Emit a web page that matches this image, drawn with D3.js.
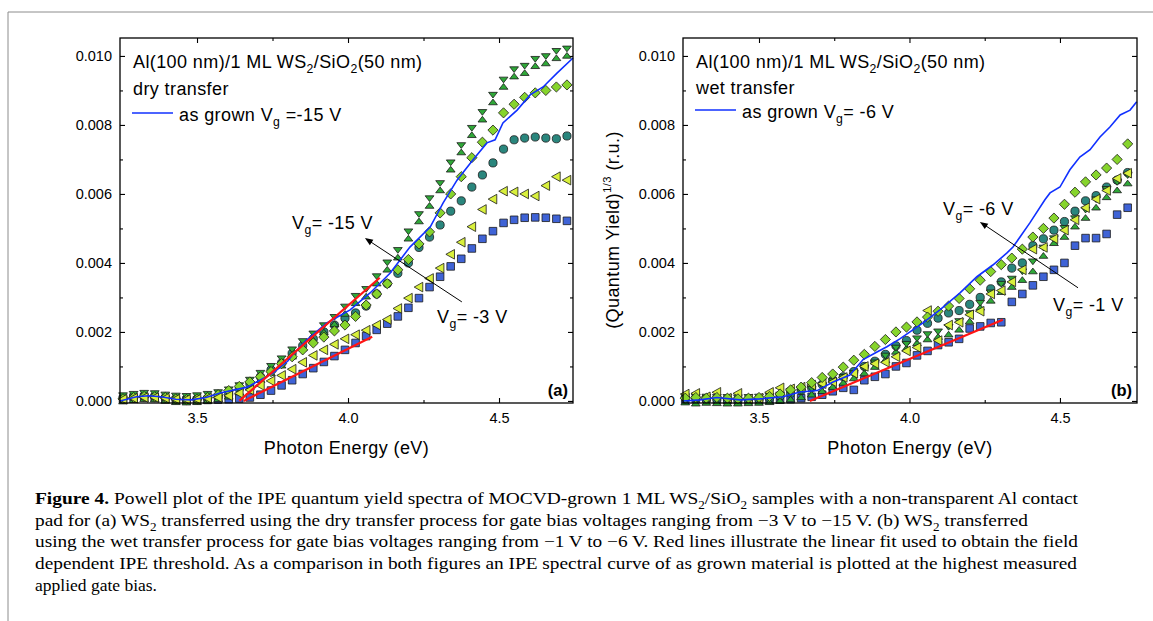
<!DOCTYPE html>
<html>
<head>
<meta charset="utf-8">
<script src="https://cdn.jsdelivr.net/npm/d3@7"></script>
<style>
  body { margin: 0; background: #fff; }
  svg text { font-family: "Liberation Sans", Arial, sans-serif; fill: #000; }
  .lbl { letter-spacing: 0.4px; }
  .caption text { font-family: "Liberation Serif", "Times New Roman", serif; }
</style>
</head>
<body>
<svg id="fig" width="1153" height="621"></svg>
<script>
// ---------------------------------------------------------------------------
// Data (photon energy in eV, (quantum yield)^1/3 in units of 10^-3 r.u.)
// ---------------------------------------------------------------------------
var energy = [3.255, 3.29, 3.325, 3.36, 3.395, 3.43, 3.465, 3.5, 3.535, 3.57,
  3.605, 3.64, 3.675, 3.71, 3.745, 3.78, 3.815, 3.85, 3.885, 3.92,
  3.955, 3.99, 4.025, 4.06, 4.095, 4.13, 4.165, 4.2, 4.235, 4.27,
  4.305, 4.34, 4.375, 4.41, 4.445, 4.48, 4.515, 4.55, 4.585, 4.62,
  4.655, 4.69, 4.725];

// (a) dry transfer
var aSquare = [0.05, 0.10, 0.12, 0.10, 0.06, 0.03, 0.02, 0.02, 0.03, 0.04,
  0.05, 0.07, 0.10, 0.18, 0.30, 0.45, 0.60, 0.78, 0.95, 1.13,
  1.30, 1.48, 1.68, 1.88, 2.06, 2.24, 2.45, 2.70, 2.98, 3.30,
  3.60, 3.90, 4.12, 4.42, 4.70, 4.92, 5.16, 5.25, 5.31, 5.32,
  5.31, 5.28, 5.22];
var aTriLeft = [0.05, 0.08, 0.10, 0.10, 0.08, 0.05, 0.04, 0.05, 0.08, 0.10,
  0.15, 0.22, 0.32, 0.45, 0.58, 0.74, 0.92, 1.12, 1.32, 1.48,
  1.64, 1.80, 1.92, 2.05, 2.20, 2.36, 2.68, 2.98, 3.30, 3.55,
  3.85, 4.25, 4.60, 5.05, 5.55, 5.85, 6.08, 6.06, 6.00, 5.94,
  6.24, 6.50, 6.40];
var aCircle = [0.08, 0.12, 0.14, 0.13, 0.10, 0.06, 0.04, 0.05, 0.08, 0.12,
  0.20, 0.35, 0.50, 0.70, 0.90, 1.10, 1.38, 1.60, 1.80, 2.00,
  2.20, 2.40, 2.55, 2.75, 3.10, 3.40, 3.70, 4.00, 4.45, 4.75,
  5.10, 5.50, 5.80, 6.20, 6.55, 6.90, 7.30, 7.57, 7.62, 7.65,
  7.62, 7.60, 7.68];
var aDiamond = [0.06, 0.10, 0.13, 0.12, 0.10, 0.06, 0.04, 0.05, 0.10, 0.18,
  0.30, 0.42, 0.55, 0.70, 0.85, 1.08, 1.28, 1.48, 1.68, 1.85,
  2.03, 2.20, 2.45, 2.78, 3.10, 3.40, 3.80, 4.10, 4.55, 4.90,
  5.45, 6.00, 6.50, 7.05, 7.50, 7.85, 8.35, 8.60, 8.80, 8.93,
  9.00, 9.10, 9.16];
var aTriUp = [0.08, 0.12, 0.15, 0.14, 0.10, 0.06, 0.05, 0.06, 0.10, 0.15,
  0.22, 0.35, 0.50, 0.70, 0.90, 1.12, 1.38, 1.62, 1.85, 2.08,
  2.32, 2.62, 2.93, 3.12, 3.50, 3.90, 4.25, 4.80, 5.30, 5.75,
  6.20, 6.80, 7.30, 7.80, 8.25, 8.75, 9.20, 9.50, 9.60, 9.80,
  9.88, 10.03, 10.10];
var aTriDown = [0.07, 0.11, 0.14, 0.13, 0.09, 0.06, 0.05, 0.07, 0.11, 0.16,
  0.24, 0.36, 0.52, 0.72, 0.92, 1.14, 1.40, 1.64, 1.86, 2.10,
  2.34, 2.64, 2.95, 3.15, 3.52, 3.92, 4.28, 4.82, 5.32, 5.78,
  6.22, 6.82, 7.32, 7.82, 8.28, 8.78, 9.22, 9.52, 9.62, 9.82,
  9.90, 10.05, 10.12];
var aGrownE = [3.245, 3.30, 3.34, 3.38, 3.43, 3.48, 3.53, 3.576, 3.666, 3.75,
  3.80, 3.818, 3.864, 3.93, 4.007, 4.073, 4.139, 4.205, 4.272, 4.315,
  4.361, 4.414, 4.46, 4.487, 4.513, 4.56, 4.603, 4.646, 4.692, 4.745];
var aGrownY = [0.00, 0.12, 0.15, 0.12, 0.05, 0.03, 0.10, 0.23, 0.40, 0.80,
  1.15, 1.35, 1.77, 2.26, 2.64, 3.13, 3.70, 4.46, 5.04, 5.74,
  6.40, 6.99, 7.48, 7.57, 8.06, 8.43, 8.87, 9.10, 9.50, 9.94];
var aFitE = [[3.64, 4.105], [3.655, 4.08]];
var aFitY = [[0, 3.57], [0, 1.86]];

// (b) wet transfer
var bSquare = [0.03, 0.05, 0.06, 0.04, 0.02, 0.01, 0.01, 0.02, 0.03, 0.04,
  0.05, 0.08, 0.12, 0.18, 0.28, 0.38, 0.32, 0.60, 0.70, 0.78,
  1.00, 1.10, 1.32, 1.45, 1.62, 1.70, 1.80, 2.10, 2.16, 2.26,
  2.28, 2.87, 3.10, 3.35, 3.60, 3.80, 4.00, 4.50, 4.72, 4.72,
  4.84, 5.40, 5.60];
var bTriLeft = [0.20, 0.22, 0.12, 0.25, 0.08, 0.22, 0.06, 0.08, 0.25, 0.38,
  0.35, 0.40, 0.46, 0.50, 0.55, 0.68, 0.80, 1.00, 1.08, 1.12,
  1.28, 1.45, 1.55, 2.62, 1.75, 2.20, 2.28, 2.50, 2.60, 3.10,
  3.20, 3.45, 3.80, 4.40, 4.45, 4.70, 4.95, 5.25, 5.60, 5.85,
  6.10, 6.45, 6.60];
var bCircle = [0.10, 0.08, 0.05, 0.06, 0.04, 0.03, 0.04, 0.05, 0.08, 0.14,
  0.22, 0.30, 0.38, 0.48, 0.60, 0.70, 0.85, 1.00, 1.15, 1.35,
  1.60, 1.75, 2.05, 2.25, 2.40, 2.55, 2.62, 2.80, 3.00, 3.25,
  3.45, 3.85, 4.00, 4.50, 4.70, 4.95, 5.20, 5.50, 5.80, 5.95,
  6.20, 6.40, 6.62];
var bDiamond = [0.08, 0.10, 0.08, 0.10, 0.08, 0.06, 0.08, 0.10, 0.13, 0.20,
  0.32, 0.40, 0.53, 0.68, 0.78, 0.98, 1.18, 1.35, 1.58, 1.78,
  2.00, 2.14, 2.29, 2.43, 2.60, 2.75, 2.97, 3.25, 3.50, 3.75,
  3.95, 4.14, 4.40, 4.75, 5.00, 5.30, 5.70, 6.05, 6.35, 6.55,
  6.75, 7.00, 7.45];
var bTriUp = [0.05, 0.02, 0.04, 0.03, 0.02, 0.02, 0.03, 0.04, 0.06, 0.10,
  0.14, 0.20, 0.28, 0.38, 0.50, 0.62, 0.75, 0.90, 1.08, 1.28,
  1.52, 1.62, 1.77, 1.88, 1.95, 2.02, 2.16, 2.40, 2.80, 3.00,
  3.25, 3.40, 3.60, 3.85, 4.30, 4.67, 4.85, 5.15, 5.40, 5.70,
  6.00, 6.20, 6.40];
var bTriDown = [0.04, 0.03, 0.03, 0.02, 0.02, 0.01, 0.02, 0.03, 0.05, 0.09,
  0.13, 0.18, 0.26, 0.36, 0.48, 0.60, 0.72, 0.86, 1.02, 1.22,
  1.45, 1.56, 1.72, 1.84, 1.92, 2.05, 2.22, 2.45, 2.75, 3.05,
  3.30, 3.45, 3.66, 3.95, 4.35, 4.62, 4.92, 5.20, 5.45, 5.75,
  6.05, 6.25, 6.45];
var bGrownE = [3.248, 3.304, 3.36, 3.437, 3.503, 3.58, 3.636, 3.693, 3.746, 3.802,
  3.846, 3.892, 3.925, 3.968, 4.045, 4.101, 4.168, 4.224, 4.277, 4.324,
  4.344, 4.4, 4.45, 4.467, 4.5, 4.533, 4.566, 4.6, 4.633, 4.666,
  4.7, 4.733, 4.755];
var bGrownY = [0.00, 0.03, 0.10, 0.03, 0.06, 0.12, 0.26, 0.30, 0.55, 0.75,
  1.20, 1.42, 1.57, 1.80, 2.26, 2.64, 3.13, 3.60, 3.94, 4.29,
  4.46, 5.16, 5.83, 6.03, 6.20, 6.70, 7.07, 7.28, 7.65, 7.94,
  8.29, 8.43, 8.67];
var bFitE = [[3.669, 4.31]];
var bFitY = [[0, 2.35]];

// axes
var xTicks = [3.5, 4.0, 4.5];
var xTickLabels = ["3.5", "4.0", "4.5"];
var xMinor = [3.75, 4.25];
var yTicks = [0, 2, 4, 6, 8, 10];
var yTickLabels = ["0.000", "0.002", "0.004", "0.006", "0.008", "0.010"];
var yMinor = [1, 3, 5, 7, 9];

// ---------------------------------------------------------------------------
// Layout
// ---------------------------------------------------------------------------
var svg = d3.select("#fig");
var plotTop = 38, plotBottom = 403;
var yDomain = [-0.06, 10.52];
var fs = 18;   // label font size

// figure box lines
svg.append("line").attr("x1", 8).attr("x2", 1153).attr("y1", 12).attr("y2", 12)
  .attr("stroke", "#8c8c8c").attr("stroke-width", 1);
svg.append("line").attr("x1", 8).attr("x2", 8).attr("y1", 12).attr("y2", 621)
  .attr("stroke", "#8c8c8c").attr("stroke-width", 1);

// marker shapes
var shapes = {
  square: "M-3.8,-3.8h7.6v7.6h-7.6Z",
  circle: "M4.1,0A4.1,4.1 0 1,1 -4.1,0A4.1,4.1 0 1,1 4.1,0Z",
  diamond: "M0,-5.1L5.1,0L0,5.1L-5.1,0Z",
  triLeft: "M-4.8,0L3.8,-4.8L3.8,4.8Z",
  triUp: "M0,0L4.4,5.7L-4.4,5.7Z",
  triDown: "M0,0L4.4,-5.7L-4.4,-5.7Z"
};
var colors = {
  square: "#3f63d6", triLeft: "#d9f03c", circle: "#2a867d",
  diamond: "#86d42c", triUp: "#2fa838", triDown: "#2fa838"
};

// text with sub/superscript/bold pieces
function addRich(sel, segs, size) {
  var shift = 0;
  segs.forEach(function(seg) {
    var t = seg[0], s = seg[1];
    var ts = sel.append("tspan").text(t);
    var target = 0;
    if (s === "s") { ts.attr("font-size", size * 0.68); target = size * 0.3; }
    if (s === "p") { ts.attr("font-size", size * 0.62); target = -size * 0.42; }
    if (s === "b") ts.attr("font-weight", "bold");
    if (target !== shift) { ts.attr("dy", target - shift); shift = target; }
  });
}

function drawPanel(p) {
  var x = d3.scaleLinear().domain(p.xDomain).range([p.left, p.right]);
  var y = d3.scaleLinear().domain(yDomain).range([plotBottom, plotTop]);
  var g = svg.append("g");

  // axes: all ticks inward
  function styleAxis(sel) {
    sel.select(".domain").remove();
    sel.attr("font-size", 14.5).attr("font-family", "Liberation Sans, Arial, sans-serif");
    sel.selectAll(".tick line").attr("stroke", "#000").attr("stroke-width", 1.1);
  }
  g.append("g").attr("transform", "translate(0," + plotBottom + ")")
    .call(d3.axisBottom(x).tickValues(xTicks).tickSizeInner(-5).tickSizeOuter(0)
      .tickPadding(10).tickFormat(function(d, i) { return xTickLabels[i]; }))
    .call(styleAxis);
  g.append("g").attr("transform", "translate(0," + plotBottom + ")")
    .call(d3.axisBottom(x).tickValues(xMinor).tickSizeInner(-3).tickSizeOuter(0).tickFormat(""))
    .call(styleAxis);
  g.append("g").attr("transform", "translate(0," + plotTop + ")")
    .call(d3.axisTop(x).tickValues(xTicks).tickSizeInner(-5).tickSizeOuter(0).tickFormat(""))
    .call(styleAxis);
  g.append("g").attr("transform", "translate(0," + plotTop + ")")
    .call(d3.axisTop(x).tickValues(xMinor).tickSizeInner(-3).tickSizeOuter(0).tickFormat(""))
    .call(styleAxis);
  g.append("g").attr("transform", "translate(" + p.left + ",0)")
    .call(d3.axisLeft(y).tickValues(yTicks).tickSizeInner(-5).tickSizeOuter(0)
      .tickPadding(8).tickFormat(function(d, i) { return yTickLabels[i]; }))
    .call(styleAxis);
  g.append("g").attr("transform", "translate(" + p.left + ",0)")
    .call(d3.axisLeft(y).tickValues(yMinor).tickSizeInner(-3).tickSizeOuter(0).tickFormat(""))
    .call(styleAxis);
  g.append("g").attr("transform", "translate(" + p.right + ",0)")
    .call(d3.axisRight(y).tickValues(yTicks).tickSizeInner(-5).tickSizeOuter(0).tickFormat(""))
    .call(styleAxis);
  g.append("g").attr("transform", "translate(" + p.right + ",0)")
    .call(d3.axisRight(y).tickValues(yMinor).tickSizeInner(-3).tickSizeOuter(0).tickFormat(""))
    .call(styleAxis);

  // markers
  p.series.forEach(function(s) {
    g.append("g").selectAll("path")
      .data(energy.map(function(e, i) { return { e: e, v: s.vals[i] }; }))
      .join("path")
      .attr("transform", function(d) { return "translate(" + x(d.e) + "," + y(d.v) + ")"; })
      .attr("d", shapes[s.shape])
      .attr("fill", colors[s.shape])
      .attr("stroke", "#1a1a1a")
      .attr("stroke-width", 0.8);
  });

  // as grown curve
  var line = d3.line().x(function(d) { return x(d[0]); }).y(function(d) { return y(d[1]); });
  g.append("path")
    .datum(p.grownE.map(function(e, i) { return [e, p.grownY[i]]; }))
    .attr("d", line).attr("fill", "none").attr("stroke", "#1030ff").attr("stroke-width", 1.6);

  // linear fits
  p.fitE.forEach(function(fe, k) {
    g.append("path")
      .datum(fe.map(function(e, i) { return [e, p.fitY[k][i]]; }))
      .attr("d", line).attr("fill", "none").attr("stroke", "#ff1414").attr("stroke-width", 2.2);
  });

  // frame
  g.append("rect").attr("x", p.left).attr("y", plotTop)
    .attr("width", p.right - p.left).attr("height", plotBottom - plotTop)
    .attr("fill", "none").attr("stroke", "#000").attr("stroke-width", 1.3);

  // header text and legend
  var t1 = g.append("text").attr("class", "lbl").attr("x", p.left + 13).attr("y", 67.5).attr("font-size", fs);
  addRich(t1, [["Al(100 nm)/1 ML WS"], ["2", "s"], ["/SiO"], ["2", "s"], ["(50 nm)"]], fs);
  g.append("text").attr("class", "lbl").attr("x", p.left + 13).attr("y", p.line2Y)
    .attr("font-size", fs).text(p.transfer);
  g.append("line").attr("x1", p.left + 12).attr("x2", p.left + 53)
    .attr("y1", p.legY).attr("y2", p.legY).attr("stroke", "#1030ff").attr("stroke-width", 1.6);
  var t3 = g.append("text").attr("class", "lbl").attr("x", p.left + 59).attr("y", p.legY + 8).attr("font-size", fs);
  addRich(t3, p.legend, fs);

  // arrow annotation
  var ax1 = x(p.arrow[0][0]), ay1 = y(p.arrow[0][1]);
  var ax2 = x(p.arrow[1][0]), ay2 = y(p.arrow[1][1]);
  var ang = Math.atan2(ay1 - ay2, ax1 - ax2);
  g.append("line").attr("x1", ax2).attr("y1", ay2)
    .attr("x2", ax1 - 5 * Math.cos(ang)).attr("y2", ay1 - 5 * Math.sin(ang))
    .attr("stroke", "#000").attr("stroke-width", 1);
  var hl = 8, hw = 3.2;
  var bx = ax1 - hl * Math.cos(ang), by = ay1 - hl * Math.sin(ang);
  g.append("path")
    .attr("d", "M" + ax1 + "," + ay1 +
      "L" + (bx + hw * Math.sin(ang)) + "," + (by - hw * Math.cos(ang)) +
      "L" + (bx - hw * Math.sin(ang)) + "," + (by + hw * Math.cos(ang)) + "Z")
    .attr("fill", "#000");
  p.vLabels.forEach(function(v) {
    var t = g.append("text").attr("class", "lbl").attr("x", v.x).attr("y", v.y).attr("font-size", fs);
    addRich(t, [["V"], ["g", "s"], [v.text]], fs);
  });

  // panel letter
  g.append("text").attr("x", p.right - 5).attr("y", 396).attr("text-anchor", "end")
    .attr("font-size", 16.5).attr("font-weight", "bold").text(p.letter);

  // x title
  g.append("text").attr("class", "lbl").attr("x", (p.left + p.right) / 2).attr("y", 454)
    .attr("text-anchor", "middle").attr("font-size", fs).text("Photon Energy (eV)");
  return { x: x, y: y };
}

drawPanel({
  left: 120, right: 573, xDomain: [3.245, 4.745],
  series: [
    { vals: aSquare, shape: "square" },
    { vals: aCircle, shape: "circle" },
    { vals: aTriUp, shape: "triUp" },
    { vals: aTriDown, shape: "triDown" },
    { vals: aDiamond, shape: "diamond" },
    { vals: aTriLeft, shape: "triLeft" }
  ],
  grownE: aGrownE, grownY: aGrownY, fitE: aFitE, fitY: aFitY,
  transfer: "dry transfer", line2Y: 95, legY: 113,
  legend: [["as grown V"], ["g", "s"], [" =-15 V"]],
  arrow: [[4.056, 4.72], [4.377, 2.87]],
  vLabels: [{ x: 292, y: 229, text: "= -15 V" }, { x: 437, y: 323, text: "= -3 V" }],
  letter: "(a)"
});

drawPanel({
  left: 683, right: 1137, xDomain: [3.2475, 4.756],
  series: [
    { vals: bSquare, shape: "square" },
    { vals: bCircle, shape: "circle" },
    { vals: bTriUp, shape: "triUp" },
    { vals: bTriDown, shape: "triDown" },
    { vals: bTriLeft, shape: "triLeft" },
    { vals: bDiamond, shape: "diamond" }
  ],
  grownE: bGrownE, grownY: bGrownY, fitE: bFitE, fitY: bFitY,
  transfer: "wet transfer", line2Y: 93.5, legY: 110,
  legend: [["as grown V"], ["g", "s"], ["= -6 V"]],
  arrow: [[4.234, 5.19], [4.56, 3.28]],
  vLabels: [{ x: 943, y: 215, text: "= -6 V" }, { x: 1053, y: 311, text: "= -1 V" }],
  letter: "(b)"
});

// y title, panel (b)
var yt = svg.append("text").attr("class", "lbl").attr("transform", "translate(619,230) rotate(-90)")
  .attr("text-anchor", "middle").attr("font-size", fs);
addRich(yt, [["(Quantum Yield)"], ["1/3", "p"], [" (r.u.)"]], fs);

// ---------------------------------------------------------------------------
// Caption
// ---------------------------------------------------------------------------
var captionLines = [
  [["Figure 4.", "b"], [" Powell plot of the IPE quantum yield spectra of MOCVD-grown 1 ML WS"], ["2", "s"], ["/SiO"], ["2", "s"], [" samples with a non-transparent Al contact"]],
  [["pad for (a) WS"], ["2", "s"], [" transferred using the dry transfer process for gate bias voltages ranging from \u22123 V to \u221215 V. (b) WS"], ["2", "s"], [" transferred"]],
  [["using the wet transfer process for gate bias voltages ranging from \u22121 V to \u22126 V. Red lines illustrate the linear fit used to obtain the field"]],
  [["dependent IPE threshold. As a comparison in both figures an IPE spectral curve of as grown material is plotted at the highest measured"]],
  [["applied gate bias."]]
];
var captionWidths = [1043, 993, 1043, 1042, 122];

var cap = svg.append("g").attr("class", "caption");
captionLines.forEach(function(segs, i) {
  var t = cap.append("text").attr("x", 35).attr("y", 504 + i * 21.7).attr("font-size", 17);
  t.attr("textLength", captionWidths[i]).attr("lengthAdjust", "spacingAndGlyphs");
  addRich(t, segs, 17);
});
</script>
</body>
</html>
